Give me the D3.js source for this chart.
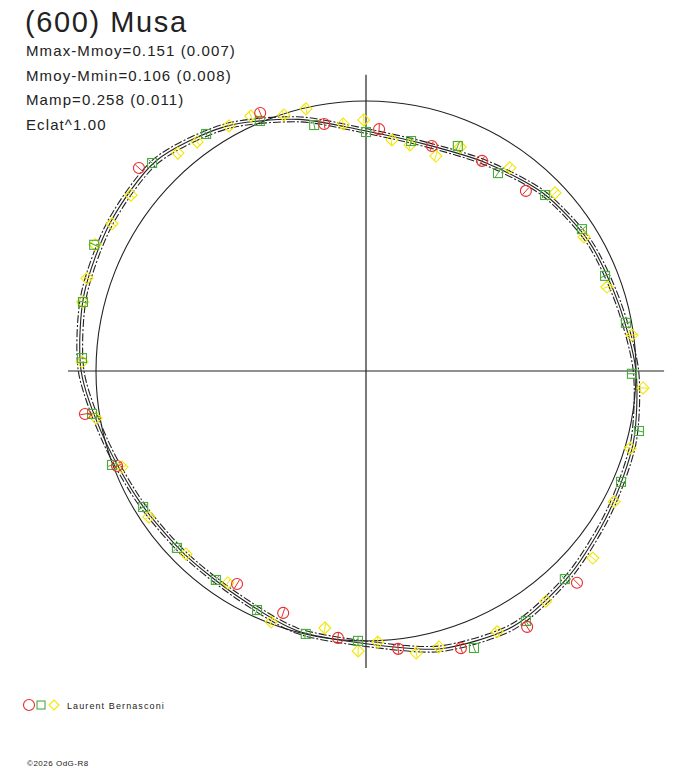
<!DOCTYPE html>
<html>
<head>
<meta charset="utf-8">
<script src="https://cdn.jsdelivr.net/npm/d3@7"></script>
<style>
  body { margin: 0; background: #fff; }
  svg { display: block; }
  text { font-family: "Liberation Sans", Arial, sans-serif; fill: #222; }
</style>
</head>
<body>
<svg id="chart" width="688" height="768"></svg>
<script>
// phase angle (deg, clockwise from top) and relative radius (1 = reference circle)
const fitAngles = [0, 15, 30, 45, 60, 75, 90, 105, 120, 135, 150, 165,
                   180, 195, 210, 225, 240, 255, 270, 285, 300, 315, 330, 345];
const fitRadius = [0.889, 0.868, 0.890, 0.930, 0.955, 0.968, 1.000, 1.025, 1.040, 1.068, 1.092, 1.065,
                   1.010, 0.995, 0.960, 0.955, 0.968, 1.000, 1.055, 1.082, 1.095, 1.100, 1.045, 0.965];
const fitSpread = 0.01;

const redPoints = [
  [337.7, 1.033], [350.4, 0.928], [3.1, 0.897], [16.3, 0.868], [28.9, 0.889], [41.6, 0.892],
  [135.1, 1.107], [147.8, 1.120], [161.1, 1.085], [173.4, 1.036], [186.0, 0.994], [198.9, 0.947],
  [211.2, 0.922], [249.1, 0.987], [261.3, 1.053], [311.8, 1.128]
];
const greenPoints = [
  [326.0, 1.059], [337.0, 1.006], [348.1, 0.931], [0.0, 0.885], [11.1, 0.868], [22.2, 0.900],
  [33.7, 0.881], [45.5, 0.930], [56.7, 0.957], [68.3, 0.953], [79.5, 0.979], [90.6, 0.985],
  [102.4, 1.035], [113.5, 1.030], [136.3, 1.066], [147.4, 1.099], [158.7, 1.101], [181.7, 1.000],
  [192.9, 0.999], [204.5, 0.973], [215.7, 0.953], [226.9, 0.959], [238.6, 0.967], [249.7, 1.003],
  [261.1, 1.027], [272.6, 1.053], [283.7, 1.079], [294.9, 1.110], [314.2, 1.105]
];
const yellowPoints = [
  [330.8, 1.040], [335.7, 1.036], [342.2, 0.996], [347.1, 0.996], [354.7, 0.919], [359.5, 0.930],
  [6.4, 0.861], [11.0, 0.853], [18.0, 0.837], [22.8, 0.900], [35.3, 0.922], [46.7, 0.962],
  [58.4, 0.948], [70.8, 0.945], [82.3, 0.994], [93.5, 1.028], [106.3, 1.019], [117.8, 1.039],
  [129.5, 1.089], [142.0, 1.082], [153.3, 1.081], [165.2, 1.057], [169.9, 1.061], [177.5, 1.005],
  [181.6, 1.037], [189.1, 0.964], [200.7, 0.994], [213.1, 0.937], [224.5, 0.951], [236.1, 0.969],
  [248.5, 0.971], [260.1, 1.015], [271.8, 1.052], [283.7, 1.080], [288.4, 1.089], [295.0, 1.107],
  [300.1, 1.087], [306.8, 1.087], [319.2, 1.066], [323.6, 1.054]
];
const errBar = 0.018;

const titleText = "(600) Musa";
const statLines = ["Mmax-Mmoy=0.151 (0.007)", "Mmoy-Mmin=0.106 (0.008)", "Mamp=0.258 (0.011)", "Eclat^1.00"];
const observer = "Laurent Bernasconi";
const credit = "\u00a92026 OdG-R8";

const svg = d3.select("#chart");
const cx = 366, cy = 371;
const r = d3.scaleLinear().domain([0, 1]).range([0, 270]);
const rad = a => a * Math.PI / 180;
const px = (a, v) => cx + r(v) * Math.sin(rad(a));
const py = (a, v) => cy - r(v) * Math.cos(rad(a));

const ink = "#222";
const red = "#ec2a2a", green = "#4aaa3c", yellow = "#f2e600";

// axes
svg.append("line").attr("x1", px(270, 1.104)).attr("x2", px(90, 1.104))
  .attr("y1", cy).attr("y2", cy).attr("stroke", ink).attr("stroke-width", 1.2);
svg.append("line").attr("x1", cx).attr("x2", cx)
  .attr("y1", py(0, 1.097)).attr("y2", py(180, 1.100)).attr("stroke", ink).attr("stroke-width", 1.2);

// reference circle
svg.append("circle").attr("cx", cx).attr("cy", cy).attr("r", r(1))
  .attr("fill", "none").attr("stroke", ink).attr("stroke-width", 1.1);

// fit curve and its envelope
const fit = fitAngles.map((a, i) => ({a: a, v: fitRadius[i]}));
const radial = d3.lineRadial()
  .angle(d => rad(d.a))
  .curve(d3.curveCardinalClosed.tension(0.2));

const g = svg.append("g").attr("transform", `translate(${cx},${cy})`);
[1 - fitSpread, 1 + fitSpread].forEach(k => {
  g.append("path")
    .attr("d", radial.radius(d => r(d.v * k))(fit))
    .attr("fill", "none").attr("stroke", ink).attr("stroke-width", 1.1)
    .attr("stroke-dasharray", "8,2,2,2");
});
g.append("path")
  .attr("d", radial.radius(d => r(d.v))(fit))
  .attr("fill", "none").attr("stroke", ink).attr("stroke-width", 1.1);

// data points
function drawSeries(data, color, shape) {
  const grp = svg.append("g");
  data.forEach(([a, v]) => {
    const x = px(a, v), y = py(a, v);
    grp.append("line")
      .attr("x1", px(a, v - errBar)).attr("y1", py(a, v - errBar))
      .attr("x2", px(a, v + errBar)).attr("y2", py(a, v + errBar))
      .attr("stroke", color).attr("stroke-width", 1);
    if (shape === "circle") {
      grp.append("circle").attr("cx", x).attr("cy", y).attr("r", 5.5)
        .attr("fill", "none").attr("stroke", color).attr("stroke-width", 1.1);
    } else if (shape === "square") {
      grp.append("rect").attr("x", x - 4.5).attr("y", y - 4.5).attr("width", 9).attr("height", 9)
        .attr("fill", "none").attr("stroke", color).attr("stroke-width", 1.1);
    } else {
      grp.append("path").attr("d", `M${x},${y - 6}L${x + 6},${y}L${x},${y + 6}L${x - 6},${y}Z`)
        .attr("fill", "none").attr("stroke", color).attr("stroke-width", 1.1);
    }
  });
}
drawSeries(yellowPoints, yellow, "diamond");
drawSeries(greenPoints, green, "square");
drawSeries(redPoints, red, "circle");

// texts
svg.append("text").attr("x", 25).attr("y", 32).attr("font-size", 29)
  .attr("letter-spacing", 1.6).text(titleText);
statLines.forEach((t, i) => {
  svg.append("text").attr("x", 26).attr("y", 56 + i * 24.5)
    .attr("font-size", 15).attr("letter-spacing", 1.1).attr("fill", "#333").text(t);
});

// legend
const ly = 705;
svg.append("circle").attr("cx", 29).attr("cy", ly).attr("r", 5.5)
  .attr("fill", "none").attr("stroke", red).attr("stroke-width", 1.1);
svg.append("rect").attr("x", 37).attr("y", ly - 4).attr("width", 8).attr("height", 8)
  .attr("fill", "none").attr("stroke", green).attr("stroke-width", 1.1);
svg.append("path").attr("d", `M54,${ly - 5}L59,${ly}L54,${ly + 5}L49,${ly}Z`)
  .attr("fill", "none").attr("stroke", yellow).attr("stroke-width", 1.1);
svg.append("text").attr("x", 67).attr("y", ly + 4).attr("font-size", 9)
  .attr("letter-spacing", 1.1).text(observer);

svg.append("text").attr("x", 27).attr("y", 766).attr("font-size", 8)
  .attr("letter-spacing", 0.5).text(credit);
</script>
</body>
</html>
